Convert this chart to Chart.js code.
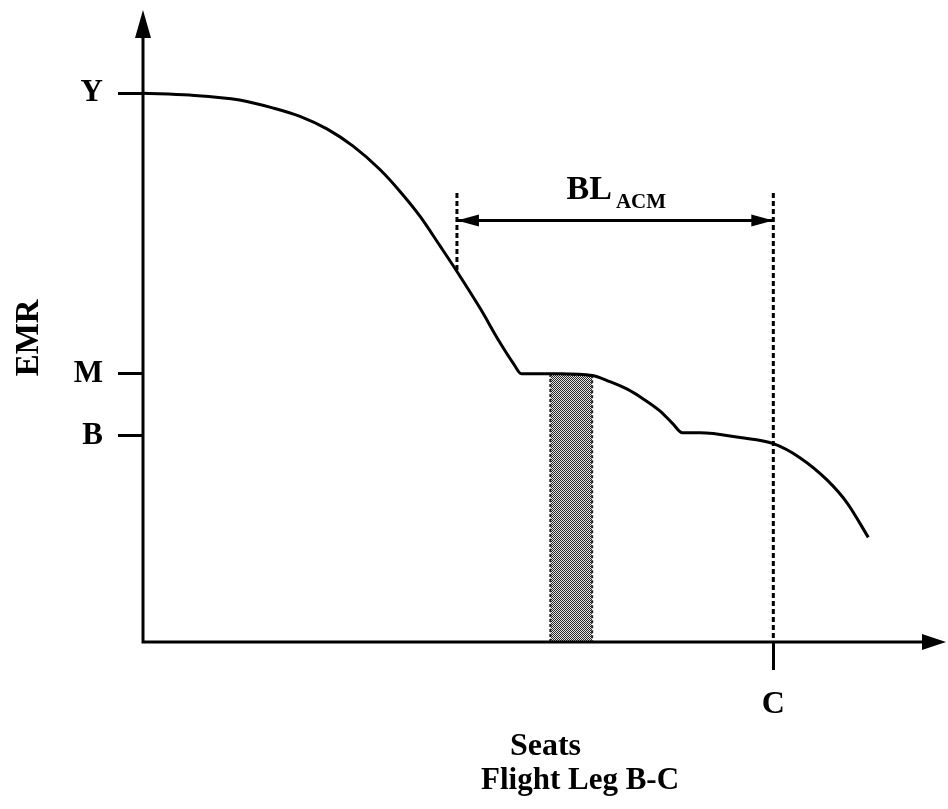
<!DOCTYPE html>
<html>
<head>
<meta charset="utf-8">
<script src="https://cdn.jsdelivr.net/npm/chart.js@4"></script>
<style>
  html, body { margin: 0; padding: 0; background: #fff; }
  #wrap { width: 948px; height: 809px; }
</style>
</head>
<body>
<div id="wrap"><canvas id="grafico"></canvas></div>
<script>
// EMR curve
var seatsX = [0, 5.8, 12.0, 16.1, 19.5, 22.9, 26.1, 29.4, 31.9, 34.4, 36.9, 39.1, 41.9, 44.3, 46.1, 47.0, 51.8, 55.8, 58.0, 60.1, 62.1, 64.2, 65.8, 67.0, 69.2, 74.2, 78.3, 81.6, 85.0, 87.5, 90.1];
var emrY = [90.2, 89.9, 89.1, 87.8, 86.4, 84.3, 81.5, 77.7, 74.1, 70.0, 65.1, 60.7, 54.8, 49.3, 45.6, 44.1, 44.1, 43.8, 42.8, 41.6, 40.0, 38.0, 35.9, 34.4, 34.4, 33.6, 32.6, 30.3, 26.6, 22.8, 17.2];

var yTickValues = [90.2, 44.1, 33.9];
var yTickLabels = ['Y', 'M', 'B'];
var xTickValues = [78.3];
var xTickLabels = ['C'];

// shaded strip
var bandX = [50.6, 55.8];
var bandTop = [44.1, 43.8];

// BL ACM interval
var blX = [39.0, 78.3];
var blArrowY = 69.3;
var blDashTop = 73.8;
var blDashBottom = [61.0, 0];
var blLabel = ['BL', 'ACM'];
var blLabelPos = [58.8, 72.8, 71.3];

var font = '"Liberation Serif", "Times New Roman", serif';

function retino() {
    var c = document.createElement('canvas');
    c.width = 4; c.height = 4;
    var g = c.getContext('2d');
    g.fillStyle = '#e6e6e6';
    g.fillRect(0, 0, 4, 4);
    g.fillStyle = '#262626';
    for (var i = 0; i < 4; i++) {
        for (var j = 0; j < 4; j++) {
            if ((i + j) % 2 == 0) g.fillRect(i, j, 1, 1);
        }
    }
    return g.createPattern(c, 'repeat');
}

function freccia(ctx, tx, ty, dx, dy, len, half) {
    var bx = tx - dx * len, by = ty - dy * len;
    ctx.beginPath();
    ctx.moveTo(tx, ty);
    ctx.lineTo(bx - dy * half, by + dx * half);
    ctx.lineTo(bx + dy * half, by - dx * half);
    ctx.closePath();
    ctx.fill();
}

var disegno = {
    id: 'disegno',
    afterDatasetsDraw: function (chart) {
        var ctx = chart.ctx, x = chart.scales.x, y = chart.scales.y;
        var x0 = x.getPixelForValue(0), y0 = y.getPixelForValue(0);
        ctx.save();
        ctx.strokeStyle = '#000';
        ctx.fillStyle = '#000';
        ctx.lineWidth = 3;

        // axes with arrows
        ctx.beginPath();
        ctx.moveTo(x0, y0 + 1.5); ctx.lineTo(x0, 25);
        ctx.moveTo(x0 - 1.5, y0); ctx.lineTo(930, y0);
        ctx.stroke();
        freccia(ctx, x0, 10, 0, -1, 28, 8);
        freccia(ctx, 946, y0, 1, 0, 24, 8);

        // double arrow
        var ay = y.getPixelForValue(blArrowY);
        freccia(ctx, x.getPixelForValue(blX[0]), ay, -1, 0, 22, 6);
        freccia(ctx, x.getPixelForValue(blX[1]), ay, 1, 0, 22, 6);

        // BL_ACM
        ctx.textBaseline = 'alphabetic';
        ctx.textAlign = 'left';
        ctx.font = 'bold 34px ' + font;
        var w1 = ctx.measureText(blLabel[0]).width;
        ctx.font = 'bold 21px ' + font;
        var w2 = ctx.measureText(blLabel[1]).width;
        var sx = x.getPixelForValue(blLabelPos[0]) - (w1 + 4 + w2) / 2;
        ctx.font = 'bold 34px ' + font;
        ctx.fillText(blLabel[0], sx, y.getPixelForValue(blLabelPos[1]));
        ctx.font = 'bold 21px ' + font;
        ctx.fillText(blLabel[1], sx + w1 + 4, y.getPixelForValue(blLabelPos[2]));

        // caption
        ctx.font = 'bold 31px ' + font;
        ctx.textAlign = 'center';
        ctx.fillText('Flight Leg B-C', 580, 789);
        ctx.restore();
    }
};

var curva = seatsX.map(function (v, i) { return {x: v, y: emrY[i]}; });
var striscia = [
    {x: bandX[0], y: 0}, {x: bandX[0], y: bandTop[0]},
    {x: bandX[1], y: bandTop[1]}, {x: bandX[1], y: 0}
];

var ctx = document.getElementById('grafico').getContext('2d');

var grafico = new Chart(ctx, {
    type: 'line',
    data: {
        datasets: [{
            label: 'EMR',
            data: curva,
            borderColor: '#000',
            borderWidth: 3,
            pointRadius: 0,
            cubicInterpolationMode: 'monotone',
            order: 1
        },
        {
            label: 'strip',
            data: striscia,
            borderColor: '#222',
            borderWidth: 2,
            borderDash: [3, 2],
            backgroundColor: retino(),
            fill: 'origin',
            pointRadius: 0,
            order: 3
        },
        {
            label: 'dash left',
            data: [{x: blX[0], y: blDashTop}, {x: blX[0], y: blDashBottom[0]}],
            borderColor: '#000',
            borderWidth: 3,
            borderDash: [5, 3],
            pointRadius: 0,
            order: 2
        },
        {
            label: 'dash right',
            data: [{x: blX[1], y: blDashTop}, {x: blX[1], y: blDashBottom[1]}],
            borderColor: '#000',
            borderWidth: 3,
            borderDash: [5, 3],
            pointRadius: 0,
            order: 2
        },
        {
            label: 'arrow',
            data: [{x: blX[0], y: blArrowY}, {x: blX[1], y: blArrowY}],
            borderColor: '#000',
            borderWidth: 3,
            pointRadius: 0,
            order: 2
        }]
    },
    options: {
        responsive: true,
        maintainAspectRatio: false,
        animation: false,
        layout: { padding: { left: 0, right: 0, top: 32, bottom: 43 } },
        plugins: {
            legend: { display: false },
            tooltip: { enabled: false }
        },
        scales: {
            x: {
                type: 'linear',
                min: 0,
                max: 100,
                afterFit: function (scale) { scale.height = 124; },
                afterBuildTicks: function (scale) {
                    scale.ticks = xTickValues.map(function (v) { return {value: v}; });
                },
                ticks: {
                    color: '#000',
                    padding: 16,
                    font: { family: font, size: 32, weight: 'bold' },
                    callback: function (v, i) { return xTickLabels[i]; }
                },
                grid: { drawOnChartArea: false, drawTicks: true, tickLength: 28, color: '#000', lineWidth: 3 },
                border: { display: false },
                title: {
                    display: true,
                    text: 'Seats',
                    color: '#000',
                    padding: 0,
                    font: { family: font, size: 32, weight: 'bold' }
                }
            },
            y: {
                type: 'linear',
                min: 0,
                max: 100,
                afterFit: function (scale) { scale.width = 143; },
                afterBuildTicks: function (scale) {
                    scale.ticks = yTickValues.map(function (v) { return {value: v}; });
                },
                ticks: {
                    color: '#000',
                    padding: 15,
                    font: { family: font, size: 31, weight: 'bold' },
                    callback: function (v, i) { return yTickLabels[i]; }
                },
                grid: { drawOnChartArea: false, drawTicks: true, tickLength: 25, color: '#000', lineWidth: 3 },
                border: { display: false },
                title: {
                    display: true,
                    text: 'EMR',
                    color: '#000',
                    padding: { top: 10, bottom: 0 },
                    font: { family: font, size: 33, weight: 'bold' }
                }
            }
        }
    },
    plugins: [disegno]
});
</script>
</body>
</html>
